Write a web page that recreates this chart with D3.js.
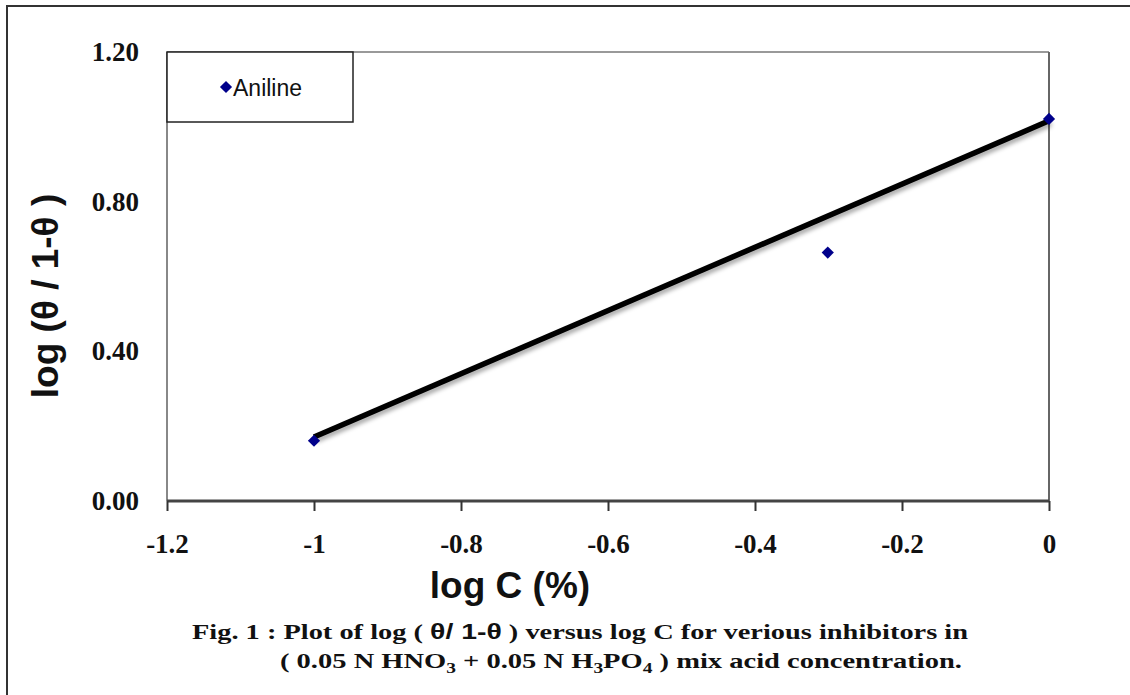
<!DOCTYPE html>
<html>
<head>
<meta charset="utf-8">
<script src="https://cdn.jsdelivr.net/npm/d3@7"></script>
<style>
  body { margin: 0; background: #fff; }
</style>
</head>
<body>
<div id="chart"></div>
<script>
var w = 1130;
var h = 695;

// values
var seriesName = "Aniline";
var logC = [-1, -0.301, 0];
var logTheta = [0.161, 0.664, 1.021];
var fitX = [-1, 0];
var fitY = [0.171, 1.016];
var xTicks = [-1.2, -1, -0.8, -0.6, -0.4, -0.2, 0];
var yTicks = [0, 0.4, 0.8, 1.2];

var plot = {left: 167, right: 1049, top: 52, bottom: 501};

var x = d3.scaleLinear()
    .domain([-1.2, 0])
    .range([plot.left, plot.right]);

var y = d3.scaleLinear()
    .domain([0, 1.2])
    .range([plot.bottom, plot.top]);

var svg = d3.select("#chart")
    .append("svg")
    .attr("width", w)
    .attr("height", h);

var defs = svg.append("defs");
var shadow = defs.append("filter")
    .attr("id", "shadow")
    .attr("x", "-10%").attr("y", "-50%")
    .attr("width", "120%").attr("height", "200%");
shadow.append("feDropShadow")
    .attr("dx", 2).attr("dy", 3)
    .attr("stdDeviation", 2)
    .attr("flood-color", "#000")
    .attr("flood-opacity", 0.35);

// outer frame
svg.append("rect")
    .attr("x", 7).attr("y", 6)
    .attr("width", w).attr("height", h)
    .attr("fill", "none")
    .attr("stroke", "#333")
    .attr("stroke-width", 2);

// plot border (top / right / left)
svg.append("line")
    .attr("x1", plot.left).attr("x2", plot.right)
    .attr("y1", plot.top).attr("y2", plot.top)
    .attr("stroke", "#999").attr("stroke-width", 2);
svg.append("line")
    .attr("x1", plot.right).attr("x2", plot.right)
    .attr("y1", plot.top).attr("y2", plot.bottom)
    .attr("stroke", "#666").attr("stroke-width", 2);
svg.append("line")
    .attr("x1", plot.left).attr("x2", plot.left)
    .attr("y1", plot.top).attr("y2", plot.bottom)
    .attr("stroke", "#888").attr("stroke-width", 2);

// x axis
var xAxis = svg.append("g")
    .attr("transform", "translate(0," + plot.bottom + ")")
    .call(d3.axisBottom(x)
        .tickValues(xTicks)
        .tickSize(10)
        .tickPadding(0));
xAxis.select(".domain")
    .attr("d", "M" + plot.left + ",0H" + plot.right)
    .attr("stroke", "#444")
    .attr("stroke-width", 3);
xAxis.selectAll(".tick line")
    .attr("stroke", "#333")
    .attr("stroke-width", 2);
xAxis.selectAll(".tick text")
    .attr("y", 52)
    .attr("dy", 0)
    .attr("fill", "#111")
    .attr("font-family", "'Liberation Serif', 'Times New Roman', serif")
    .attr("font-weight", "bold")
    .attr("font-size", 27)
    .text(function(d) { return d === 0 ? "0" : String(+d.toFixed(1)); });

// y axis labels (no ticks)
var yAxis = svg.append("g")
    .attr("transform", "translate(" + plot.left + ",0)")
    .call(d3.axisLeft(y)
        .tickValues(yTicks)
        .tickSize(0)
        .tickPadding(28)
        .tickFormat(d3.format(".2f")));
yAxis.select(".domain").remove();
yAxis.selectAll(".tick text")
    .attr("fill", "#111")
    .attr("font-family", "'Liberation Serif', 'Times New Roman', serif")
    .attr("font-weight", "bold")
    .attr("font-size", 27);

// trend line
var line = d3.line()
    .x(function(d) { return x(d[0]); })
    .y(function(d) { return y(d[1]); });

svg.append("path")
    .datum(d3.zip(fitX, fitY))
    .attr("d", line)
    .attr("fill", "none")
    .attr("stroke", "#000")
    .attr("stroke-width", 5.5)
    .attr("filter", "url(#shadow)");

// points
var diamond = d3.symbol().type(d3.symbolDiamond2).size(95);
svg.selectAll("path.pt")
    .data(d3.zip(logC, logTheta))
    .enter()
    .append("path")
    .attr("class", "pt")
    .attr("d", diamond)
    .attr("transform", function(d) { return "translate(" + x(d[0]) + "," + y(d[1]) + ")"; })
    .attr("fill", "#00008b");

// legend
var legend = svg.append("g");
legend.append("rect")
    .attr("x", plot.left).attr("y", plot.top)
    .attr("width", 186).attr("height", 70)
    .attr("fill", "#fff")
    .attr("stroke", "#222")
    .attr("stroke-width", 1.5);
legend.append("path")
    .attr("d", diamond)
    .attr("transform", "translate(226,87)")
    .attr("fill", "#00008b");
legend.append("text")
    .attr("x", 233).attr("y", 96)
    .attr("font-family", "'Liberation Sans', Arial, sans-serif")
    .attr("font-size", 23)
    .attr("fill", "#111")
    .text(seriesName);

// axis titles
svg.append("text")
    .attr("x", 510).attr("y", 598)
    .attr("text-anchor", "middle")
    .attr("font-family", "'Liberation Sans', Arial, sans-serif")
    .attr("font-weight", "bold")
    .attr("font-size", 37)
    .attr("fill", "#111")
    .text("log C (%)");

svg.append("text")
    .attr("transform", "translate(58,296) rotate(-90)")
    .attr("text-anchor", "middle")
    .attr("font-family", "'Liberation Sans', Arial, sans-serif")
    .attr("font-weight", "bold")
    .attr("font-size", 37)
    .attr("fill", "#111")
    .text("log (\u03b8 / 1-\u03b8 )");

// caption
var serif = "'Liberation Serif', 'Times New Roman', serif";
var cap1 = svg.append("text")
    .attr("x", 192).attr("y", 639)
    .attr("font-family", serif)
    .attr("font-weight", "bold")
    .attr("font-size", 22)
    .attr("fill", "#111")
    .attr("textLength", 776)
    .attr("lengthAdjust", "spacingAndGlyphs");
cap1.append("tspan").text("Fig. 1 : Plot of log ( ");
cap1.append("tspan").attr("font-family", "'Liberation Sans', Arial, sans-serif").text("\u03b8/ 1-\u03b8");
cap1.append("tspan").text(" ) versus log C for verious inhibitors in");

var cap2 = svg.append("text")
    .attr("x", 280).attr("y", 668)
    .attr("font-family", serif)
    .attr("font-weight", "bold")
    .attr("font-size", 22)
    .attr("fill", "#111")
    .attr("textLength", 682)
    .attr("lengthAdjust", "spacingAndGlyphs");
cap2.append("tspan").text("( 0.05 N HNO");
cap2.append("tspan").attr("font-size", 15).attr("dy", 5).text("3");
cap2.append("tspan").attr("dy", -5).text(" + 0.05 N H");
cap2.append("tspan").attr("font-size", 15).attr("dy", 5).text("3");
cap2.append("tspan").attr("dy", -5).text("PO");
cap2.append("tspan").attr("font-size", 15).attr("dy", 5).text("4");
cap2.append("tspan").attr("dy", -5).text(" ) mix acid concentration.");
</script>
</body>
</html>
